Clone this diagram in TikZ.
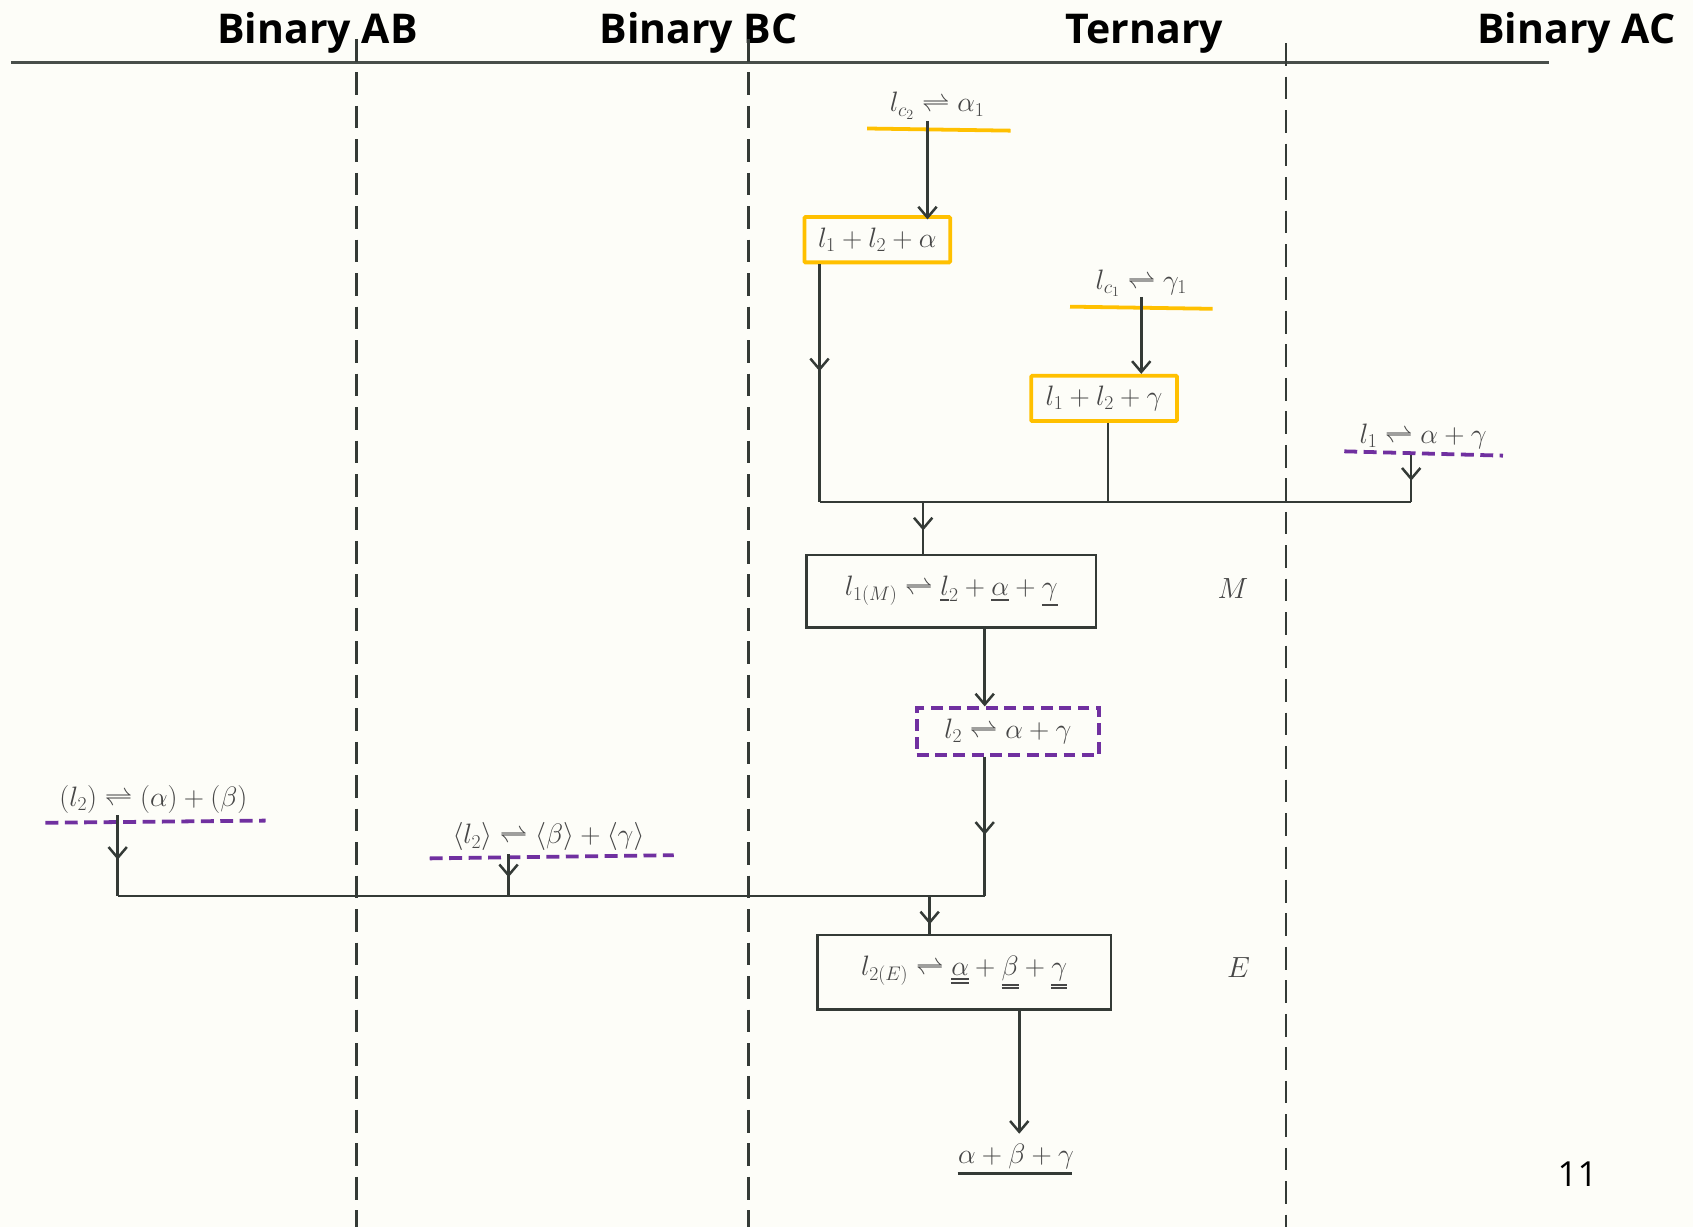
\RequirePackage{fix-cm}
\documentclass[tikz,border=0pt]{standalone}
\usepackage{fontspec}
\newfontfamily\hdrfont{Open Sans}
\usetikzlibrary{arrows.meta,decorations.markings}
\definecolor{ink}{HTML}{343A36}
\definecolor{txt}{HTML}{474747}
\definecolor{orng}{HTML}{FFC000}
\definecolor{purp}{HTML}{7030A0}
\definecolor{paper}{HTML}{FDFDF8}
\newcommand\dbl[1]{\mathord{\vtop{\hbox{$#1$}\kern3pt\hrule height1.6pt\kern1.6pt\hrule height1.6pt}}}
\newcommand\sgl[1]{\mathord{\vtop{\hbox{$#1$}\kern3pt\hrule height1.6pt}}}
\tikzset{
  hdr/.style={font=\hdrfont\bfseries\fontsize{38}{40}\selectfont, anchor=base, inner sep=0pt, text=black},
  mtxt/.style={font=\fontsize{26}{30}\selectfont, text=txt, inner sep=0pt},
  conn/.style={draw=ink, line width=2.3pt},
  arrowend/.style={-{Straight Barb[length=10pt,width=17pt,line width=2.3pt]}},
  midarr/.style={postaction={decorate}, decoration={markings, mark=at position #1 with {\arrow{Straight Barb[length=10pt,width=17pt,line width=2.3pt]}}}},
  obox/.style={draw=orng, line width=3.5pt, rounded corners=1pt, inner sep=0pt, font=\fontsize{26}{30}\selectfont, text=txt},
  pbox/.style={draw=purp, line width=3.5pt, dash pattern=on 11pt off 6pt, inner sep=0pt, font=\fontsize{26}{30}\selectfont, text=txt},
  kbox/.style={draw=ink, line width=2.4pt, inner sep=0pt, font=\fontsize{26}{30}\selectfont, text=txt},
  orul/.style={draw=orng, line width=3.5pt},
  pul/.style={draw=purp, line width=3.5pt, dash pattern=on 12pt off 6pt},
  divider/.style={draw=ink, line width=2.4pt, dash pattern=on 21pt off 10pt},
}
\begin{document}
\begin{tikzpicture}[x=1pt,y=-1pt]
\useasboundingbox[fill=paper] (0,0) rectangle (1568,1136);

% headers
\node[hdr] (hAB) at (294,40) {Binary AB};
\node[hdr] (hBC) at (647,40) {Binary BC};
\node[hdr] (hT) at (1060,40) {Ternary};
\node[hdr] (hAC) at (1460,40) {Binary AC};
\draw[draw=ink!90, line width=2.6pt] (10,58) -- (1435,58);

% column dividers
\draw[divider] (330,36) -- (330,1136);
\draw[divider] (693,36) -- (693,1136);
\draw[divider] (1191,40) -- (1191,1136);

% ternary, upper part
\node[mtxt] (lc2) at (868,98) {$l_{c_2}\rightleftharpoons\alpha_1$};
\draw[orul] (803,119) -- (936,121);
\node[obox, minimum width=135pt, minimum height=42pt] (bA) at (812.5,222) {$l_1+l_2+\alpha$};
\coordinate (lc2o) at (859,112);
\draw[conn, arrowend] (lc2o) -- ([yshift=-4pt]lc2o |- bA.north);

\node[mtxt] (lc1) at (1057,262) {$l_{c_1}\rightleftharpoons\gamma_1$};
\draw[orul] (991,284) -- (1123,286);
\node[obox, minimum width=135pt, minimum height=42pt] (bB) at (1022.5,369) {$l_1+l_2+\gamma$};
\coordinate (lc1o) at (1057,275);
\draw[conn, arrowend] (lc1o) -- (lc1o |- bB.north);

\node[mtxt] (l1ag) at (1318,404) {$l_1\rightleftharpoons\alpha+\gamma$};
\draw[pul] (1245,418) -- (1392,422);
\coordinate (l1ago) at (1307,421);

% junction line at 465
\coordinate (jL) at (759,465);
\coordinate (jR) at (1307,465);
\coordinate (jB) at (1026,465);
\coordinate (jM) at (855,465);
\draw[conn, midarr=0.45] (bA.south -| jL) -- (jL);
\draw[conn] (bB.south -| jB) -- (jB);
\draw[conn, midarr=0.55] (l1ago) -- (jR);
\draw[conn] (jL) -- (jR);

% M reaction
\node[kbox, minimum width=268pt, minimum height=67pt] (bM) at (881,547.5) {$l_{1(M)}\rightleftharpoons\sgl{l}_2+\sgl{\alpha}+\sgl{\gamma}$};
\draw[conn, midarr=0.55] (jM) -- (jM |- bM.north);
\node[mtxt, font=\fontsize{27}{30}\selectfont] (mM) at (1142,545) {$M$};

\node[pbox, minimum width=169pt, minimum height=43pt] (bP) at (933.5,677.5) {$l_2\rightleftharpoons\alpha+\gamma$};
\coordinate (mo) at (912,581);
\draw[conn, arrowend] (mo) -- (mo |- bP.north);

% lower junction at 830
\coordinate (kL) at (109,830);
\coordinate (kR) at (912,830);
\coordinate (kA) at (471,830);
\coordinate (kE) at (861,830);
\draw[conn, midarr=0.56] (bP.south -| kR) -- (kR);

\node[mtxt] (lAB) at (142,740) {$(l_2)\rightleftharpoons(\alpha)+(\beta)$};
\draw[pul] (42,762) -- (246,760);
\coordinate (lABo) at (109,755);
\draw[conn, midarr=0.55] (lABo) -- (kL);

\node[mtxt] (lBC) at (508,775) {$\langle l_2\rangle\rightleftharpoons\langle\beta\rangle+\langle\gamma\rangle$};
\draw[pul] (398,795) -- (624,792);
\coordinate (lBCo) at (471,791);
\draw[conn, midarr=0.55] (lBCo) -- (kA);

\draw[conn] (kL) -- (kR);

% E reaction
\node[kbox, minimum width=272pt, minimum height=69pt] (bE) at (893,900.5) {$l_{2(E)}\rightleftharpoons\dbl{\alpha}+\dbl{\beta}+\dbl{\gamma}$};
\draw[conn, midarr=0.75] (kE) -- (kE |- bE.north);
\node[mtxt, font=\fontsize{27}{30}\selectfont] (eE) at (1147,896) {$E$};

\node[mtxt] (res) at (941,1071) {$\alpha+\beta+\gamma$};
\coordinate (eo) at (944,935);
\draw[conn, arrowend] (eo) -- (944,1050);
\draw[draw=ink, line width=2.3pt] (887,1087) -- (993,1087);

% page number
\node[font=\hdrfont\fontsize{32}{34}\selectfont, anchor=base, inner sep=0pt] (pg) at (1461,1099) {11};
\end{tikzpicture}
\end{document}
